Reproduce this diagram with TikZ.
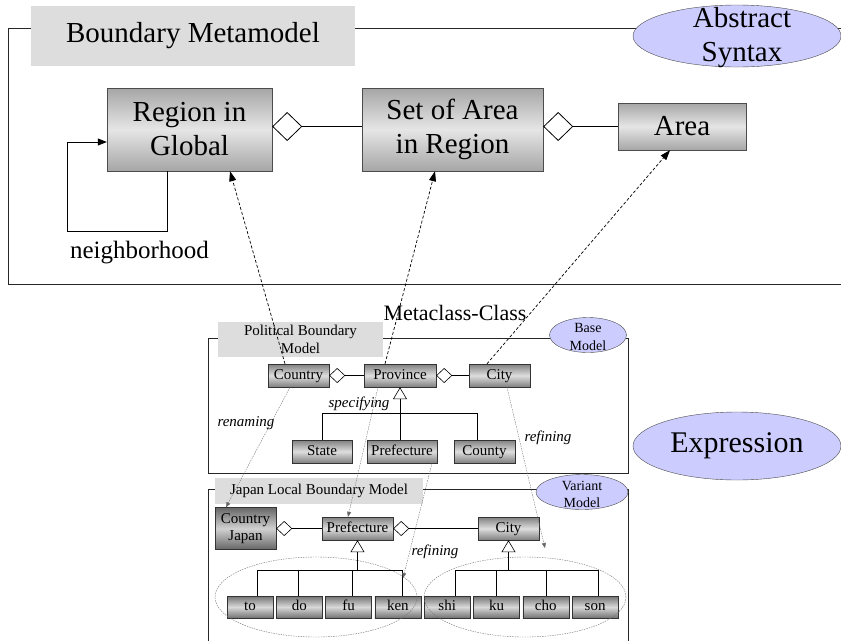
\documentclass[tikz,border=0pt]{standalone}
\usepackage{fontspec}
\setmainfont{Liberation Serif}
\usetikzlibrary{shapes.geometric, arrows.meta}
\definecolor{lavender}{HTML}{CCCCFF}
\definecolor{labelgray}{HTML}{DDDDDD}
\tikzstyle{metaclass} = [rectangle, draw=black!70, top color=black!35, bottom color=black!35, middle color=black!10, inner sep=0pt, align=center, font=\fontsize{29}{34}\selectfont]
\tikzstyle{modelclass} = [rectangle, draw=black!80, top color=black!50, bottom color=black!50, middle color=black!13, inner sep=0pt, minimum height=23pt, text height=10.5pt, text depth=3pt, font=\fontsize{15}{17}\selectfont]
\tikzstyle{darkclass} = [modelclass, top color=black!60, bottom color=black!60, middle color=black!18, align=center, text height=, text depth=]
\tikzstyle{leaf} = [modelclass, top color=black!55, bottom color=black!55, middle color=black!15, minimum width=46pt, minimum height=22pt]
\tikzstyle{pkglabel} = [rectangle, fill=labelgray, inner sep=0pt, align=center]
\tikzstyle{kind} = [ellipse, draw=black!70, fill=lavender, inner sep=0pt]
\tikzstyle{frame} = [draw=black!85, line width=0.8pt]
\tikzstyle{wire} = [line width=0.6pt]
\tikzstyle{arrow} = [line width=0.8pt, -{Triangle[length=9pt,width=7pt]}]
\tikzstyle{aggr} = [line width=0.8pt, {Diamond[open,length=30pt,width=29pt]}-]
\tikzstyle{smallaggr} = [line width=0.6pt, {Diamond[open,length=16pt,width=15pt]}-]
\tikzstyle{gen} = [line width=0.6pt, -{Triangle[open,length=12pt,width=14pt]}]
\tikzstyle{metaarrow} = [line width=0.7pt, dash pattern=on 3pt off 2pt, -{Triangle[length=10pt,width=7pt]}]
\tikzstyle{mapping} = [line width=0.35pt, draw=black!60, dash pattern=on 1.5pt off 1pt, -{Triangle[length=5pt,width=4pt]}]
\tikzstyle{group} = [ellipse, draw=black!55, line width=0.4pt, dash pattern=on 1.5pt off 1pt, inner sep=0pt, minimum width=202pt, minimum height=80pt]
\tikzstyle{note} = [font=\fontsize{15}{17}\selectfont\itshape]

\begin{document}
\begin{tikzpicture}[x=1pt, y=-1pt, node distance=49.3pt]
\useasboundingbox (0,0) rectangle (841,641);

% Packages
\draw [frame] (841,28) -- (8,28) -- (8,284) -- (841,284);
\draw [frame] (208,338) rectangle (628,473);
\draw [frame] (208,641) -- (208,489) -- (628,489) -- (628,641);

\node (metalabel) [pkglabel, minimum width=324pt, minimum height=60pt, font=\fontsize{29}{34}\selectfont] at (193,36) {Boundary Metamodel};
\node (baselabel) [pkglabel, minimum width=165pt, minimum height=35pt, font=\fontsize{15}{18}\selectfont] at (300.5,339.5) {Political Boundary\\Model};
\node (japanlabel) [pkglabel, minimum width=208pt, minimum height=26pt, font=\fontsize{15}{18}\selectfont] at (319,491) {Japan Local Boundary Model};

% Kinds
\node (abstract) [kind, minimum width=208pt, minimum height=62pt] at (737,36) {};
\node (abstracttext) [align=center, font=\fontsize{29}{34}\selectfont] at (742,38) {Abstract\\Syntax};
\node (expression) [kind, minimum width=208pt, minimum height=68pt, font=\fontsize{30}{34}\selectfont] at (737,446) {Expression};
\node (basekind) [kind, minimum width=77pt, minimum height=35pt] at (588,335) {};
\node (basetext) [align=center, font=\fontsize{14}{18}\selectfont] at (588,337) {Base\\Model};
\node (variantkind) [kind, minimum width=92pt, minimum height=35pt] at (582,492) {};
\node (varianttext) [align=center, font=\fontsize{14}{17}\selectfont] at (582,494) {Variant\\Model};

% Metamodel
\node (region) [metaclass, minimum width=165pt, minimum height=83pt] at (189.5,129.5) {Region in\\Global};
\node (setarea) [metaclass, minimum width=181pt, minimum height=83pt] at (452.5,129.5) {Set of Area\\in Region};
\node (area) [metaclass, minimum width=128pt, minimum height=47pt] at (682,126.5) {Area};
\node (neighborhood) [font=\fontsize{25}{30}\selectfont] at (139.5,253) {neighborhood};
\node (metaclasslabel) [font=\fontsize{22}{26}\selectfont] at (455,313) {Metaclass-Class};

% Base model
\node (country) [modelclass, minimum width=61pt] at (298.5,375.5) {Country};
\node (province) [modelclass, minimum width=72pt] at (400,375.5) {Province};
\node (city) [modelclass, minimum width=61pt] at (499.5,375.5) {City};
\node (state) [modelclass, minimum width=60pt] at (322,451.5) {State};
\node (prefecture) [modelclass, minimum width=70pt] at (402,451.5) {Prefecture};
\node (county) [modelclass, minimum width=61pt] at (484.5,451.5) {County};

% Variant model
\node (countryjp) [darkclass, minimum width=61pt, minimum height=42pt] at (245.5,528.5) {Country\\Japan};
\node (prefecturejp) [modelclass, minimum width=71pt] at (357.5,528.5) {Prefecture};
\node (cityjp) [modelclass, minimum width=61pt] at (508.5,528.5) {City};

\node (to) [leaf] at (250,607) {to};
\node (do) [leaf, right of=to] {do};
\node (fu) [leaf, right of=do] {fu};
\node (ken) [leaf, right of=fu] {ken};
\node (shi) [leaf, right of=ken] {shi};
\node (ku) [leaf, right of=shi] {ku};
\node (cho) [leaf, right of=ku] {cho};
\node (son) [leaf, right of=cho] {son};

\node (leftgroup) [group] at (316,597) {};
\node (rightgroup) [group] at (525,597) {};

% Aggregations
\draw [aggr] (region.east |- area.west) -- (setarea.west |- area.west);
\draw [aggr] (setarea.east |- area.west) -- (area.west);
\draw [smallaggr] (country.east) -- (province.west);
\draw [smallaggr] (province.east) -- (city.west);
\draw [smallaggr] (countryjp.east) -- (prefecturejp.west);
\draw [smallaggr] (prefecturejp.east) -- (cityjp.west);

% Self association
\draw [arrow] ([xshift=-22.5pt]region.south) -- ++(0,60) -| ([xshift=-39pt,yshift=-12.5pt]region.west) -- ([yshift=-12.5pt]region.west);

% Metaclass-class
\draw [metaarrow] ([xshift=-13.5pt]country.north) -- ([xshift=40.5pt]region.south);
\draw [metaarrow] ([xshift=-15pt]province.north) -- ([xshift=-17.5pt]setarea.south);
\draw [metaarrow] ([xshift=-12.5pt]city.north) -- ([xshift=-12pt]area.south);

% Generalizations
\coordinate (provincejoint) at ([yshift=-26pt]province.south);
\draw [gen] (provincejoint) -- (province.south);
\draw [wire] (provincejoint) -| (state.north);
\draw [wire] (provincejoint) -- (provincejoint |- prefecture.north);
\draw [wire] (provincejoint) -| ([xshift=-7.5pt]county.north);

\coordinate (prefjoint) at ([yshift=-30pt]prefecturejp.south);
\draw [gen] (prefjoint) -- (prefecturejp.south);
\draw [wire] (prefjoint) -| ([xshift=7pt]to.north);
\draw [wire] (prefjoint) -| ([xshift=-1.5pt]do.north);
\draw [wire] (prefjoint) -| ([xshift=3.5pt]fu.north);
\draw [wire] (prefjoint) -| ([xshift=4pt]ken.north);

\coordinate (cityjoint) at ([yshift=-30pt]cityjp.south);
\draw [gen] (cityjoint) -- (cityjp.south);
\draw [wire] (cityjoint) -| ([xshift=8.5pt]shi.north);
\draw [wire] (cityjoint) -| (ku.north);
\draw [wire] (cityjoint) -| (cho.north);
\draw [wire] (cityjoint) -| ([xshift=3pt]son.north);

% Mappings
\coordinate (kentip) at (403,578);
\coordinate (citytip) at (545,548);
\draw [mapping] ([xshift=-8.5pt]country.south) -- ([xshift=-19.5pt]countryjp.north);
\draw [mapping] ([xshift=-22pt]province.south) -- ([xshift=-9.5pt]prefecturejp.north);
\draw [mapping] ([xshift=30pt]prefecture.south) -- (kentip);
\draw [mapping] ([xshift=7.5pt]city.south) -- (citytip);

\node (renaming) [note] at (246,423) {renaming};
\node (specifying) [note] at (359,404) {specifying};
\node (refiningbase) [note] at (548,438) {refining};
\node (refiningjp) [note] at (435,552) {refining};

\end{tikzpicture}
\end{document}
